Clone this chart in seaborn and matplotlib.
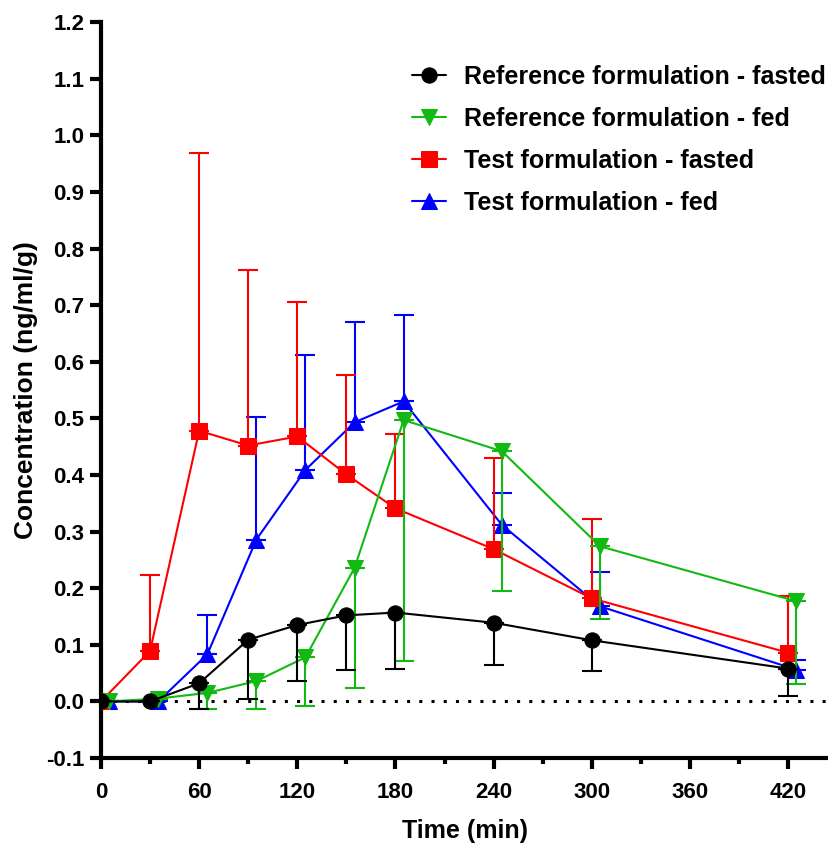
import numpy as np
import pandas as pd
import matplotlib
matplotlib.use("Agg")
import matplotlib.pyplot as plt
from matplotlib.ticker import MultipleLocator, FormatStrFormatter
import seaborn as sns

# -----------------------------
# Data
# -----------------------------
time_min = [0, 30, 60, 90, 120, 150, 180, 240, 300, 420]
fed_shift = 5  # fed groups are nudged right a little

ref_fasted = [0.0, 0.0, 0.032, 0.109, 0.135, 0.152, 0.157, 0.139, 0.108, 0.058]
ref_fasted_sd = [0.0, 0.0, 0.046, 0.104, 0.099, 0.097, 0.099, 0.075, 0.055, 0.049]

ref_fed = [0.0, 0.005, 0.015, 0.036, 0.078, 0.236, 0.497, 0.442, 0.274, 0.177]
ref_fed_sd = [0.0, 0.0, 0.028, 0.049, 0.086, 0.212, 0.426, 0.247, 0.129, 0.147]

test_fasted = [0.0, 0.089, 0.478, 0.452, 0.468, 0.401, 0.341, 0.269, 0.182, 0.086]
test_fasted_sd = [0.0, 0.135, 0.490, 0.310, 0.237, 0.176, 0.131, 0.161, 0.141, 0.101]

test_fed = [0.0, 0.0, 0.083, 0.286, 0.409, 0.493, 0.530, 0.312, 0.168, 0.056]
test_fed_sd = [0.0, 0.0, 0.070, 0.216, 0.203, 0.178, 0.152, 0.057, 0.061, 0.018]

labels = ["Reference formulation - fasted", "Reference formulation - fed",
          "Test formulation - fasted", "Test formulation - fed"]

# -----------------------------
# Style
# -----------------------------
sns.set_style("ticks")
plt.rcParams['font.family'] = ['Liberation Sans', 'DejaVu Sans']
plt.rcParams['font.weight'] = 'bold'
for key in ['text.color', 'axes.labelcolor', 'xtick.color', 'ytick.color', 'axes.edgecolor']:
    plt.rcParams[key] = 'black'

fig = plt.figure(figsize=(8.29, 8.43), dpi=100)
ax = fig.add_axes([0.1218, 0.1008, 0.8782, 0.873])

# series: (label, x, mean, sd, colour, marker, size, error direction, zorder)
series = [
    (labels[0], time_min, ref_fasted, ref_fasted_sd, "black", "o", 11, "down", 8),
    (labels[1], [t + fed_shift for t in time_min], ref_fed, ref_fed_sd, "#13B913", "v", 12, "down", 6),
    (labels[2], time_min, test_fasted, test_fasted_sd, "#FF0000", "s", 11.5, "up", 4),
    (labels[3], [t + fed_shift for t in time_min], test_fed, test_fed_sd, "#0000FF", "^", 12, "up", 2),
]

# zero reference line
ax.axhline(0, color="black", linestyle=(0, (1, 3)), linewidth=2.2, zorder=1)

for name, x, y, sd, col, mk, ms, direction, z in series:
    sd = np.array(sd)
    zeros = np.zeros_like(sd)
    yerr = [sd, zeros] if direction == "down" else [zeros, sd]
    ax.errorbar(x, y, yerr=yerr, fmt="none", ecolor=col, elinewidth=1.5,
                capsize=7, capthick=1.5, zorder=z)
    df = pd.DataFrame({"t": x, "c": y})
    sns.lineplot(data=df, x="t", y="c", ax=ax, color=col, marker=mk,
                 markersize=ms, markeredgecolor=col,
                 linewidth=1.5, label=name, zorder=z + 1)

# -----------------------------
# Axes
# -----------------------------
ax.set_xlim(0, 445)
ax.set_ylim(-0.1, 1.2)
ax.xaxis.set_major_locator(MultipleLocator(60))
ax.xaxis.set_minor_locator(MultipleLocator(30))
ax.yaxis.set_major_locator(MultipleLocator(0.1))
ax.yaxis.set_major_formatter(FormatStrFormatter("%.1f"))

sns.despine(ax=ax)
for side in ["left", "bottom"]:
    ax.spines[side].set_linewidth(3)
    ax.spines[side].set_color("black")
ax.tick_params(axis="y", which="major", length=8, width=3, labelsize=16, pad=4)
ax.tick_params(axis="x", which="major", length=8, width=3, labelsize=16, pad=9)
ax.tick_params(axis="x", which="minor", length=4, width=3)
for t in ax.get_xticklabels() + ax.get_yticklabels():
    t.set_fontweight("bold")

ax.set_xlabel("Time (min)", fontsize=18, fontweight="bold", labelpad=12)
ax.set_ylabel("Concentration (ng/ml/g)", fontsize=19, fontweight="bold", labelpad=6)

leg = ax.legend(loc="upper left", bbox_to_anchor=(0.427, 0.942), frameon=False,
                prop={"size": 18, "weight": "bold"}, handlelength=1.35,
                labelspacing=0.72, handletextpad=0.75, borderaxespad=0,
                borderpad=0)

fig.savefig("out.png", dpi=100)
